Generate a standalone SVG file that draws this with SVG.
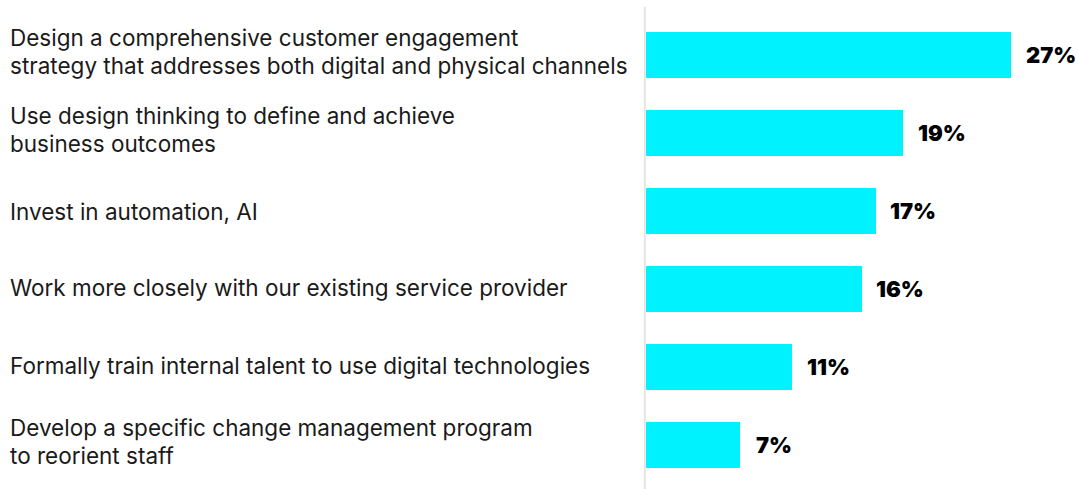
<svg xmlns="http://www.w3.org/2000/svg" width="1078" height="489" viewBox="0 0 1078 489">
  <style>
    .lbl { font-family: Inter, "Liberation Sans", sans-serif; font-size: 22.5px; fill: #1a1a1a; }
    .val { font-family: Inter, "Liberation Sans", sans-serif; font-size: 22px; font-weight: 900; fill: #000; }
    .bar { fill: #00F2FF; }
  </style>
  <rect x="0" y="0" width="1078" height="489" fill="#ffffff"/>
  <g id="axis">
    <line x1="644.8" y1="7" x2="644.8" y2="489" stroke="#e2e2e2" stroke-width="1.8"/>
  </g>
  <g id="row1">
    <text class="lbl" x="10" y="46">Design a comprehensive customer engagement</text>
    <text class="lbl" x="10" y="74">strategy that addresses both digital and physical channels</text>
    <rect class="bar" x="646" y="32" width="365" height="46"/>
    <text class="val" x="1026" y="63">27%</text>
  </g>
  <g id="row2">
    <text class="lbl" x="10" y="124">Use design thinking to define and achieve</text>
    <text class="lbl" x="10" y="152">business outcomes</text>
    <rect class="bar" x="646" y="110" width="257" height="46"/>
    <text class="val" x="918" y="141">19%</text>
  </g>
  <g id="row3">
    <text class="lbl" x="10" y="220">Invest in automation, AI</text>
    <rect class="bar" x="646" y="188" width="230" height="46"/>
    <text class="val" x="890" y="219">17%</text>
  </g>
  <g id="row4">
    <text class="lbl" x="10" y="296">Work more closely with our existing service provider</text>
    <rect class="bar" x="646" y="266" width="216" height="46"/>
    <text class="val" x="876" y="297">16%</text>
  </g>
  <g id="row5">
    <text class="lbl" x="10" y="374">Formally train internal talent to use digital technologies</text>
    <rect class="bar" x="646" y="344" width="146" height="46"/>
    <text class="val" x="807" y="375">11%</text>
  </g>
  <g id="row6">
    <text class="lbl" x="10" y="436">Develop a specific change management program</text>
    <text class="lbl" x="10" y="464">to reorient staff</text>
    <rect class="bar" x="646" y="422" width="94" height="46"/>
    <text class="val" x="756" y="453">7%</text>
  </g>
</svg>
